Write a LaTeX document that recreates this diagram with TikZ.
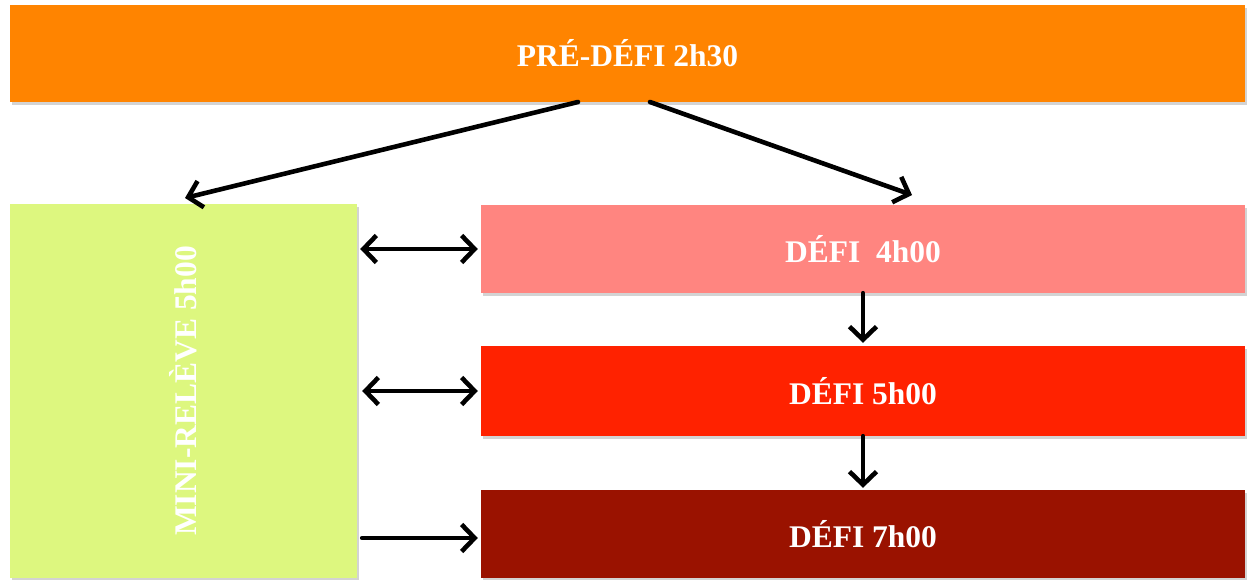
\documentclass[tikz,border=0pt]{standalone}
\usepackage{fontspec}
\setmainfont{Liberation Serif}
\usetikzlibrary{arrows.meta,shadows,calc}
\definecolor{orangeP}{HTML}{FF8400}
\definecolor{greenM}{HTML}{DDF77F}
\definecolor{pinkD}{HTML}{FF8580}
\definecolor{redD}{HTML}{FF2200}
\definecolor{darkD}{HTML}{9A1200}
\tikzset{
  bloc/.style={rectangle, inner sep=0pt, text=white, font=\fontsize{31.5}{36}\selectfont\bfseries,
    drop shadow={shadow xshift=2pt, shadow yshift=-3pt, opacity=0.35}},
  fl/.style={line width=4.6pt, line cap=round, line join=round,
    -{Straight Barb[length=13pt, width=27pt, line width=4.6pt]}},
  dfl/.style={fl, {Straight Barb[length=13pt, width=27pt, line width=4.6pt]}-{Straight Barb[length=13pt, width=27pt, line width=4.6pt]}}
}
\begin{document}
\begin{tikzpicture}[x=1pt, y=-1pt]
	\useasboundingbox (0,0) rectangle (1248,580);
	\node[bloc, fill=orangeP, minimum width=1235pt, minimum height=97pt] (P) at (627.5,53.5) {PRÉ-DÉFI 2h30};
	\node[bloc, fill=greenM, minimum width=347pt, minimum height=374pt] (M) at (183.5,391) {};
	\node[text=white, font=\fontsize{31.5}{36}\selectfont\bfseries, rotate=90] at (M.center) {MINI-RELÈVE 5h00};
	\node[bloc, fill=pinkD, minimum width=764pt, minimum height=88pt] (D4) at (863,249) {DÉFI\ \ 4h00};
	\node[bloc, fill=redD, minimum width=764pt, minimum height=90pt] (D5) at (863,391) {DÉFI 5h00};
	\node[bloc, fill=darkD, minimum width=764pt, minimum height=88pt] (D7) at (863,534) {DÉFI 7h00};
	\path
	(578,102) coordinate (A)
	(650,102) coordinate (B)
	(185,198) coordinate (C)
	(912,195) coordinate (E);
	\draw[fl] (A) -- (C);
	\draw[fl] (B) -- (E);
	\draw[dfl, shorten <=3pt, shorten >=3pt] (M.east |- D4.west) -- (D4.west);
	\draw[dfl, shorten <=5pt, shorten >=3pt] (M.east |- D5.west) -- (D5.west);
	\draw[fl, shorten <=5pt, shorten >=3pt] ($(M.east |- D7.west)+(0,4)$) -- ($(D7.west)+(0,4)$);
	\draw[fl, shorten >=3pt] (D4.south) -- (D5.north);
	\draw[fl, shorten >=2pt] (D5.south) -- (D7.north);
\end{tikzpicture}
\end{document}
